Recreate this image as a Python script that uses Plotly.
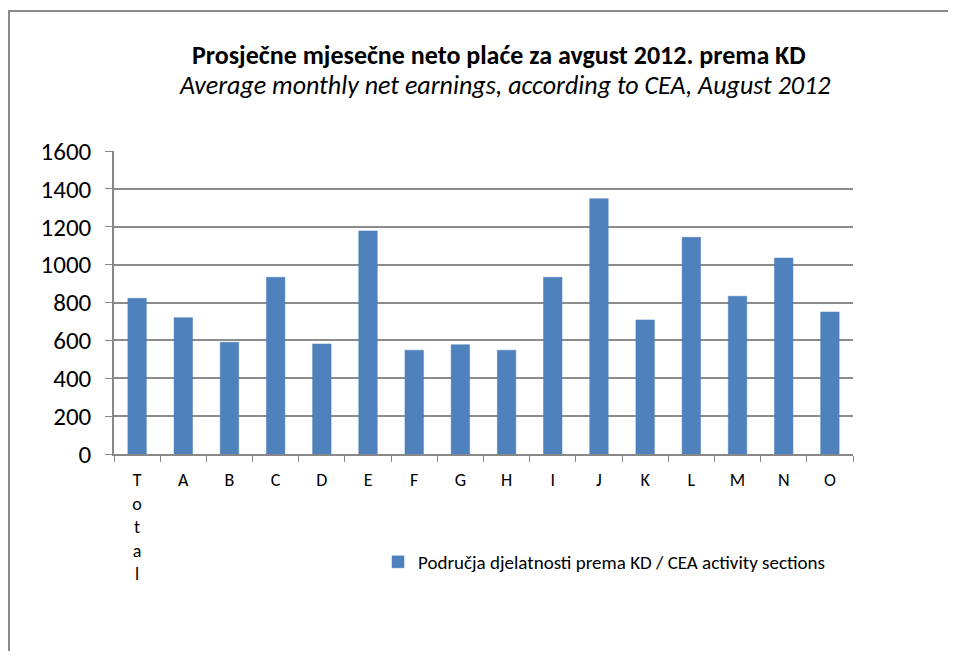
import plotly.graph_objects as go

categories = ["Total", "A", "B", "C", "D", "E", "F", "G", "H", "I", "J", "K", "L", "M", "N", "O"]
tick_labels = ["T<br>o<br>t<br>a<br>l", "A", "B", "C", "D", "E", "F", "G", "H", "I", "J", "K", "L", "M", "N", "O"]
earnings = [822, 720, 590, 933, 581, 1178, 548, 577, 548, 933, 1348, 708, 1144, 833, 1035, 750]
y_ticks = [0, 200, 400, 600, 800, 1000, 1200, 1400, 1600]
series_name = "Područja djelatnosti prema KD / CEA activity sections"
title_main = "Prosječne mjesečne neto plaće za avgust 2012. prema KD"
title_sub = "Average monthly net earnings, according to CEA, August 2012"

FONT = "Carlito, Lato, Liberation Sans, Arial, sans-serif"

fig = go.Figure(go.Bar(
    x=categories, y=earnings, name=series_name,
    marker=dict(color="#4F81BD", line=dict(color="#4A7EBB", width=0.5)),
    showlegend=True,
))

# page body has an 8px margin; keep the figure inside the viewport (no scrollbars)
W, H = 940, 643
L, T = 106, 143
R = W - 845
B = H - 446
pw, ph = W - L - R, H - T - B

def px_x(x):
    return (x - L) / pw

def px_y(y):
    return (H - B - y) / ph

border_path = "M {x0},{y0} L {x0},{y1} L {x2},{y1}".format(
    x0=px_x(1), y0=px_y(700), y1=px_y(3), x2=px_x(1000))

fig.update_layout(
    width=W, height=H,
    margin=dict(l=L, r=R, t=T, b=B, pad=0),
    paper_bgcolor="white", plot_bgcolor="white",
    bargap=0.6,
    font=dict(family=FONT, color="#000000"),
    showlegend=True,
    legend=dict(x=px_x(370), y=px_y(554), xanchor="left", yanchor="middle",
                font=dict(size=19, family=FONT), bgcolor="rgba(0,0,0,0)",
                itemwidth=30),
    xaxis=dict(
        tickmode="array", tickvals=categories, ticktext=tick_labels,
        tickson="boundaries", ticks="outside", ticklen=6, tickcolor="#888888",
        showline=True, linecolor="#888888", linewidth=1.5,
        tickfont=dict(size=18, family=FONT),
        ticklabelstandoff=9,
        showgrid=False,
    ),
    yaxis=dict(
        range=[0, 1600], tickvals=y_ticks,
        showgrid=True, gridcolor="#8c8c8c", gridwidth=1.5,
        showline=True, linecolor="#888888", linewidth=1.5,
        ticks="outside", ticklen=7, tickcolor="#888888",
        tickfont=dict(size=25, family=FONT),
        ticklabelstandoff=9,
        zeroline=False,
    ),
    annotations=[
        dict(text="<b>" + title_main + "</b>", x=px_x(491), y=px_y(47),
             xref="paper", yref="paper", showarrow=False,
             font=dict(size=26, family=FONT), xanchor="center", yanchor="middle"),
        dict(text="<i>" + title_sub + "</i>", x=px_x(497), y=px_y(77),
             xref="paper", yref="paper", showarrow=False,
             font=dict(size=26, family=FONT), xanchor="center", yanchor="middle"),
    ],
    shapes=[
        dict(type="path", xref="paper", yref="paper", path=border_path,
             line=dict(color="#8a8a8a", width=2), layer="below"),
    ],
)

fig.write_html("out.html")
